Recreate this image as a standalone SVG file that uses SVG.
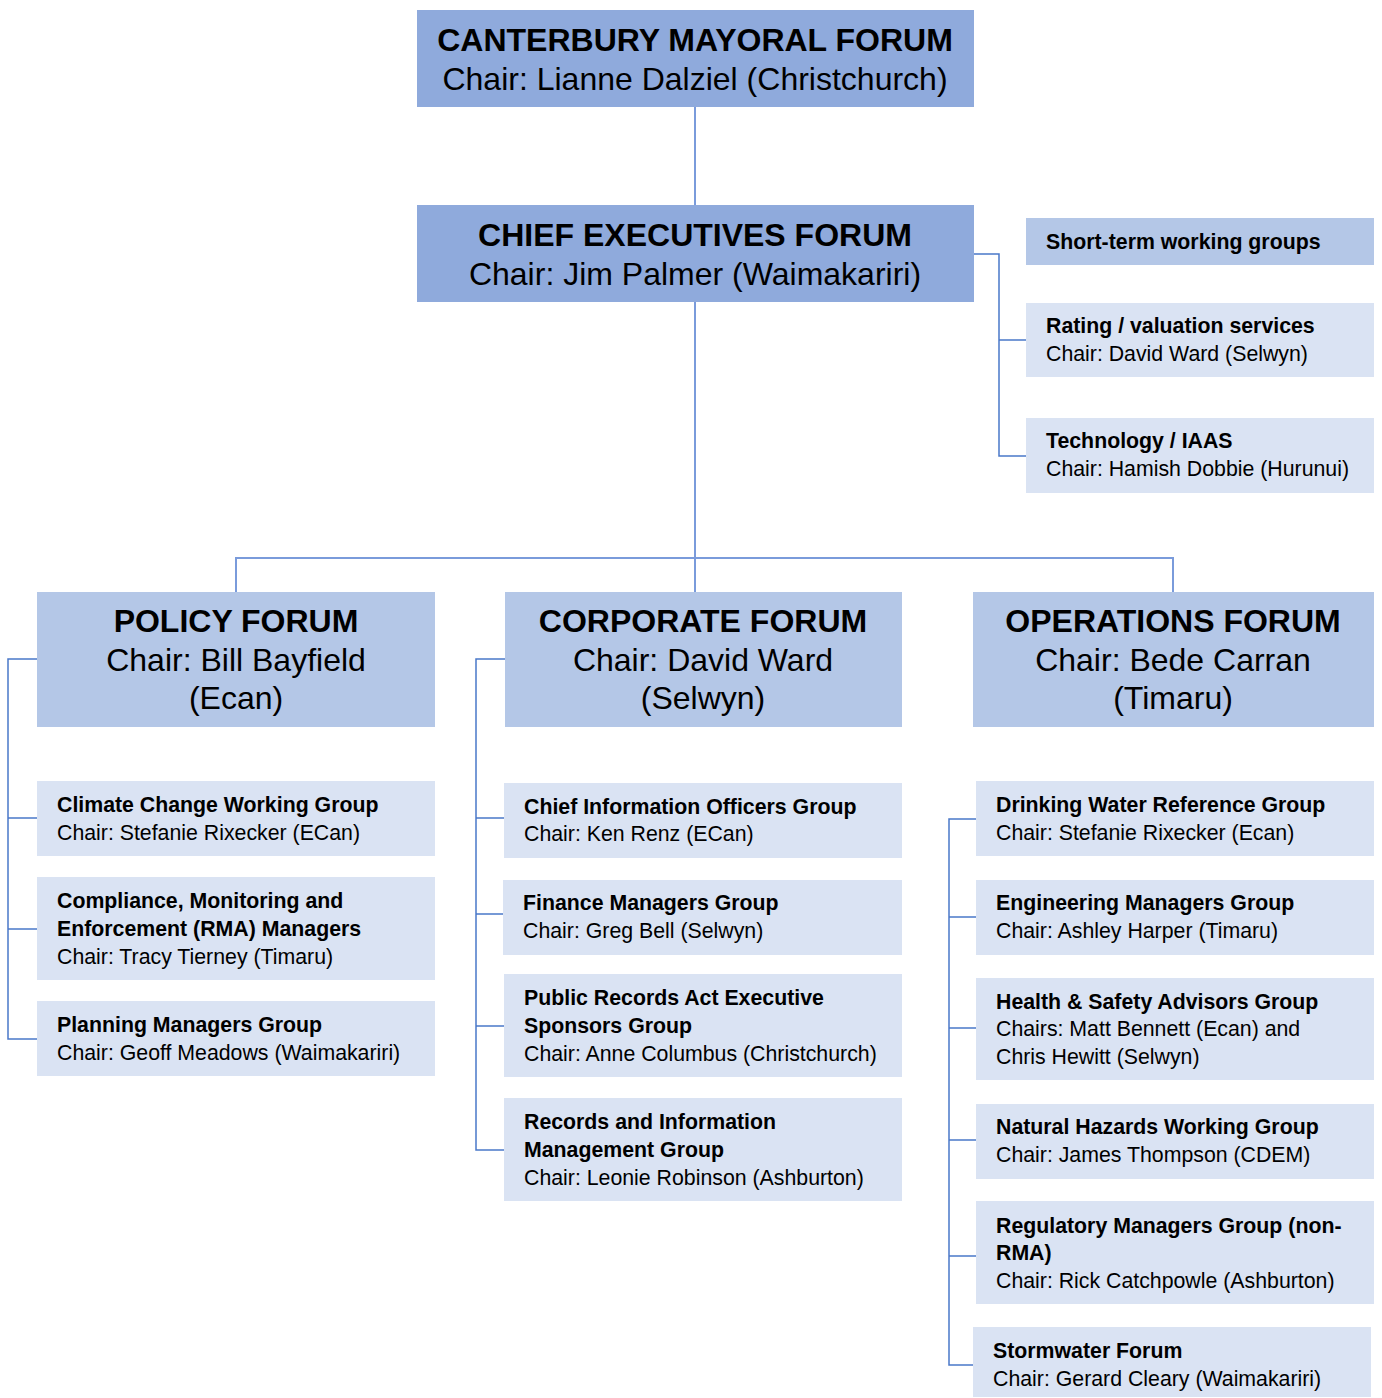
<svg xmlns="http://www.w3.org/2000/svg" width="1382" height="1398" viewBox="0 0 1382 1398">
<style>
.dark{fill:#8FAADC}
.mid{fill:#B4C7E7}
.light{fill:#DAE3F3}
text{font-family:"Liberation Sans",Arial,sans-serif;fill:#000}
.hb{font-size:32px;font-weight:bold}
.hr{font-size:32px}
.sb{font-size:21.3px;font-weight:bold}
.sr{font-size:21.3px}
.main{fill:none;stroke:#7A9BDB;stroke-width:2}
.side{fill:none;stroke:#4A78C9;stroke-width:1.5}
</style>
<rect width="1382" height="1398" fill="#fff"/>
<g id="connectors">
<path class="main" d="M695,107V205M695,302V592M236,592V558H1173V592"/>
<path class="side" d="M974,254H999V456H1026M999,340H1026"/>
<path class="side" d="M37,659H8V1039H37M8,818H37M8,929H37"/>
<path class="side" d="M505,659H476V1150H504M476,818H504M476,914H503M476,1026H504"/>
<path class="side" d="M976,819H949V1365H973M949,917H976M949,1028H976M949,1140H976M949,1256H976"/>
</g>
<g id="mayoral">
<rect class="dark" x="417" y="10" width="557" height="97"/>
<text class="hb" x="695" y="51" text-anchor="middle">CANTERBURY MAYORAL FORUM</text>
<text class="hr" x="695" y="90" text-anchor="middle">Chair: Lianne Dalziel (Christchurch)</text>
</g>
<g id="ceo">
<rect class="dark" x="417" y="205" width="557" height="97"/>
<text class="hb" x="695" y="246" text-anchor="middle">CHIEF EXECUTIVES FORUM</text>
<text class="hr" x="695" y="285" text-anchor="middle">Chair: Jim Palmer (Waimakariri)</text>
</g>
<g id="shortterm">
<rect class="mid" x="1026" y="218" width="348" height="47"/>
<text class="sb" x="1046" y="249">Short-term working groups</text>
</g>
<g id="rating">
<rect class="light" x="1026" y="303" width="348" height="74"/>
<text class="sb" x="1046" y="333">Rating / valuation services</text>
<text class="sr" x="1046" y="361">Chair: David Ward (Selwyn)</text>
</g>
<g id="technology">
<rect class="light" x="1026" y="418" width="348" height="75"/>
<text class="sb" x="1046" y="448">Technology / IAAS</text>
<text class="sr" x="1046" y="476">Chair: Hamish Dobbie (Hurunui)</text>
</g>
<g id="policy">
<rect class="mid" x="37" y="592" width="398" height="135"/>
<text class="hb" x="236" y="632" text-anchor="middle">POLICY FORUM</text>
<text class="hr" x="236" y="671" text-anchor="middle">Chair: Bill Bayfield</text>
<text class="hr" x="236" y="709" text-anchor="middle">(Ecan)</text>
</g>
<g id="corporate">
<rect class="mid" x="505" y="592" width="397" height="135"/>
<text class="hb" x="703" y="632" text-anchor="middle">CORPORATE FORUM</text>
<text class="hr" x="703" y="671" text-anchor="middle">Chair: David Ward</text>
<text class="hr" x="703" y="709" text-anchor="middle">(Selwyn)</text>
</g>
<g id="operations">
<rect class="mid" x="973" y="592" width="401" height="135"/>
<text class="hb" x="1173" y="632" text-anchor="middle">OPERATIONS FORUM</text>
<text class="hr" x="1173" y="671" text-anchor="middle">Chair: Bede Carran</text>
<text class="hr" x="1173" y="709" text-anchor="middle">(Timaru)</text>
</g>
<g id="climate">
<rect class="light" x="37" y="781" width="398" height="75"/>
<text class="sb" x="57" y="812">Climate Change Working Group</text>
<text class="sr" x="57" y="840">Chair: Stefanie Rixecker (ECan)</text>
</g>
<g id="compliance">
<rect class="light" x="37" y="877" width="398" height="103"/>
<text class="sb" x="57" y="908">Compliance, Monitoring and</text>
<text class="sb" x="57" y="936">Enforcement (RMA) Managers</text>
<text class="sr" x="57" y="964">Chair: Tracy Tierney (Timaru)</text>
</g>
<g id="planning">
<rect class="light" x="37" y="1001" width="398" height="75"/>
<text class="sb" x="57" y="1032">Planning Managers Group</text>
<text class="sr" x="57" y="1060">Chair: Geoff Meadows (Waimakariri)</text>
</g>
<g id="cio">
<rect class="light" x="504" y="783" width="398" height="75"/>
<text class="sb" x="524" y="814">Chief Information Officers Group</text>
<text class="sr" x="524" y="841">Chair: Ken Renz (ECan)</text>
</g>
<g id="finance">
<rect class="light" x="503" y="880" width="399" height="75"/>
<text class="sb" x="523" y="910">Finance Managers Group</text>
<text class="sr" x="523" y="938">Chair: Greg Bell (Selwyn)</text>
</g>
<g id="publicrecords">
<rect class="light" x="504" y="974" width="398" height="103"/>
<text class="sb" x="524" y="1005">Public Records Act Executive</text>
<text class="sb" x="524" y="1033">Sponsors Group</text>
<text class="sr" x="524" y="1061">Chair: Anne Columbus (Christchurch)</text>
</g>
<g id="records">
<rect class="light" x="504" y="1098" width="398" height="103"/>
<text class="sb" x="524" y="1129">Records and Information</text>
<text class="sb" x="524" y="1157">Management Group</text>
<text class="sr" x="524" y="1185">Chair: Leonie Robinson (Ashburton)</text>
</g>
<g id="drinking">
<rect class="light" x="976" y="781" width="398" height="75"/>
<text class="sb" x="996" y="812">Drinking Water Reference Group</text>
<text class="sr" x="996" y="840">Chair: Stefanie Rixecker (Ecan)</text>
</g>
<g id="engineering">
<rect class="light" x="976" y="880" width="398" height="75"/>
<text class="sb" x="996" y="910">Engineering Managers Group</text>
<text class="sr" x="996" y="938">Chair: Ashley Harper (Timaru)</text>
</g>
<g id="health">
<rect class="light" x="976" y="978" width="398" height="102"/>
<text class="sb" x="996" y="1009">Health &amp; Safety Advisors Group</text>
<text class="sr" x="996" y="1036">Chairs: Matt Bennett (Ecan) and</text>
<text class="sr" x="996" y="1064">Chris Hewitt (Selwyn)</text>
</g>
<g id="natural">
<rect class="light" x="976" y="1104" width="398" height="75"/>
<text class="sb" x="996" y="1134">Natural Hazards Working Group</text>
<text class="sr" x="996" y="1162">Chair: James Thompson (CDEM)</text>
</g>
<g id="regulatory">
<rect class="light" x="976" y="1201" width="398" height="103"/>
<text class="sb" x="996" y="1233">Regulatory Managers Group (non-</text>
<text class="sb" x="996" y="1260">RMA)</text>
<text class="sr" x="996" y="1288">Chair: Rick Catchpowle (Ashburton)</text>
</g>
<g id="stormwater">
<rect class="light" x="973" y="1327" width="398" height="70"/>
<text class="sb" x="993" y="1358">Stormwater Forum</text>
<text class="sr" x="993" y="1386">Chair: Gerard Cleary (Waimakariri)</text>
</g>
</svg>
